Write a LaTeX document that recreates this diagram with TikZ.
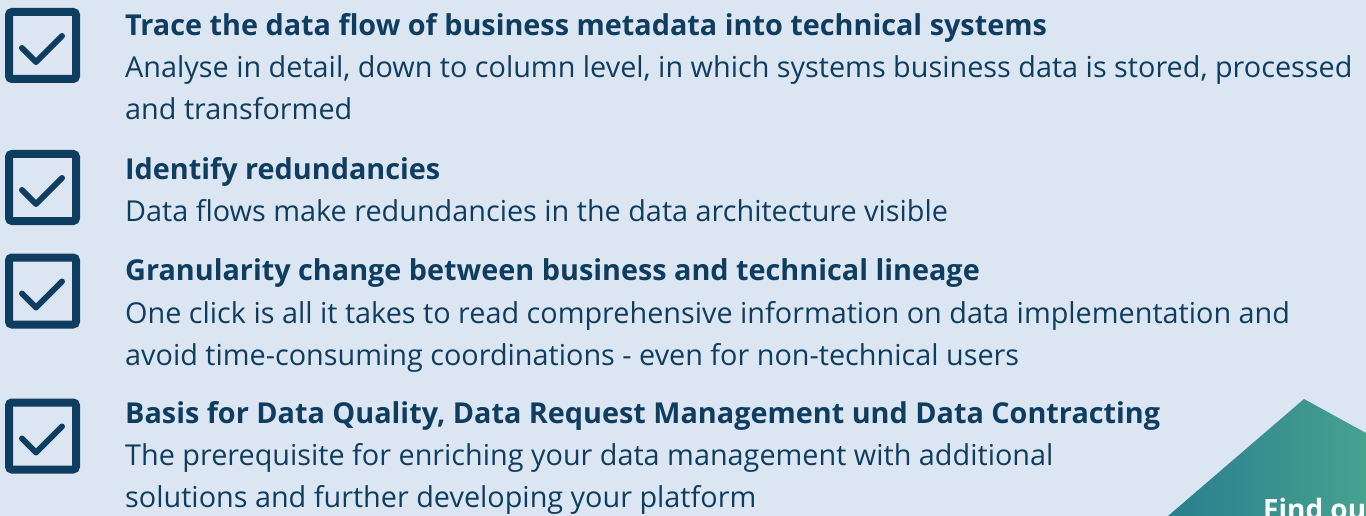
\documentclass[tikz,border=0pt]{standalone}
\usepackage{fontspec}
\setmainfont{Open Sans}
\usetikzlibrary{positioning}

\definecolor{bgblue}{HTML}{DCE6F2}
\definecolor{navy}{HTML}{0F3D5F}
\definecolor{tealL}{HTML}{2A7D8E}
\definecolor{tealR}{HTML}{47A290}

\tikzset{
  chk/.style={draw=navy,line width=8pt,rounded corners=3pt,minimum size=67pt,inner sep=0pt},
  tick/.style={draw=navy,line width=6pt,line cap=round,line join=round},
  head/.style={anchor=base west,inner sep=0pt,text=navy,font=\fontsize{28.8}{42}\selectfont\bfseries},
  txt/.style={anchor=base west,inner sep=0pt,text=navy,align=left,font=\fontsize{28.8}{42}\selectfont}
}

\begin{document}
\begin{tikzpicture}[x=1pt,y=1pt]

\useasboundingbox (0,0) rectangle (1366,-516);
\clip (0,0) rectangle (1366,-516);
\fill[bgblue] (0,0) rectangle (1366,-516);

% check boxes
\node[chk](c1) at (42.5,-45.5){};
\node[chk](c2) at (42.5,-187.5){};
\node[chk](c3) at (42.5,-291){};
\node[chk](c4) at (42.5,-436){};
\foreach \c in {c1,c2,c3,c4}
  \draw[tick] ([shift={(-20.5,-2.5)}]\c.center) -- ([shift={(-6.5,-16.5)}]\c.center) -- ([shift={(19.5,9.5)}]\c.center);

% texts (base of a two-line node is its last line)
\node[head](h1) at (125,-35.5){Trace the data flow of business metadata into technical systems};
\node[txt](b1) at (125,-120){Analyse in detail, down to column level, in which systems business data is stored, processed\\and transformed};
\node[head](h2) at (125,-179){Identify redundancies};
\node[txt](b2) at (125,-222){Data flows make redundancies in the data architecture visible};
\node[head](h3) at (125,-280){Granularity change between business and technical lineage};
\node[txt](b3) at (125,-365){One click is all it takes to read comprehensive information on data implementation and\\avoid time-consuming coordinations - even for non-technical users};
\node[head](h4) at (125,-423){Basis for Data Quality, Data Request Management und Data Contracting};
\node[txt](b4) at (125,-507.5){The prerequisite for enriching your data management with additional\\solutions and further developing your platform};

% corner button
\shade[left color=tealL,right color=tealR] (1168,-516) -- (1304,-399) -- (1366,-433) -- (1366,-516) -- cycle;
\node[anchor=base west,inner sep=0pt,text=white,font=\fontsize{28}{34}\selectfont\bfseries](more) at (1263,-519){Find ou};

\end{tikzpicture}
\end{document}
